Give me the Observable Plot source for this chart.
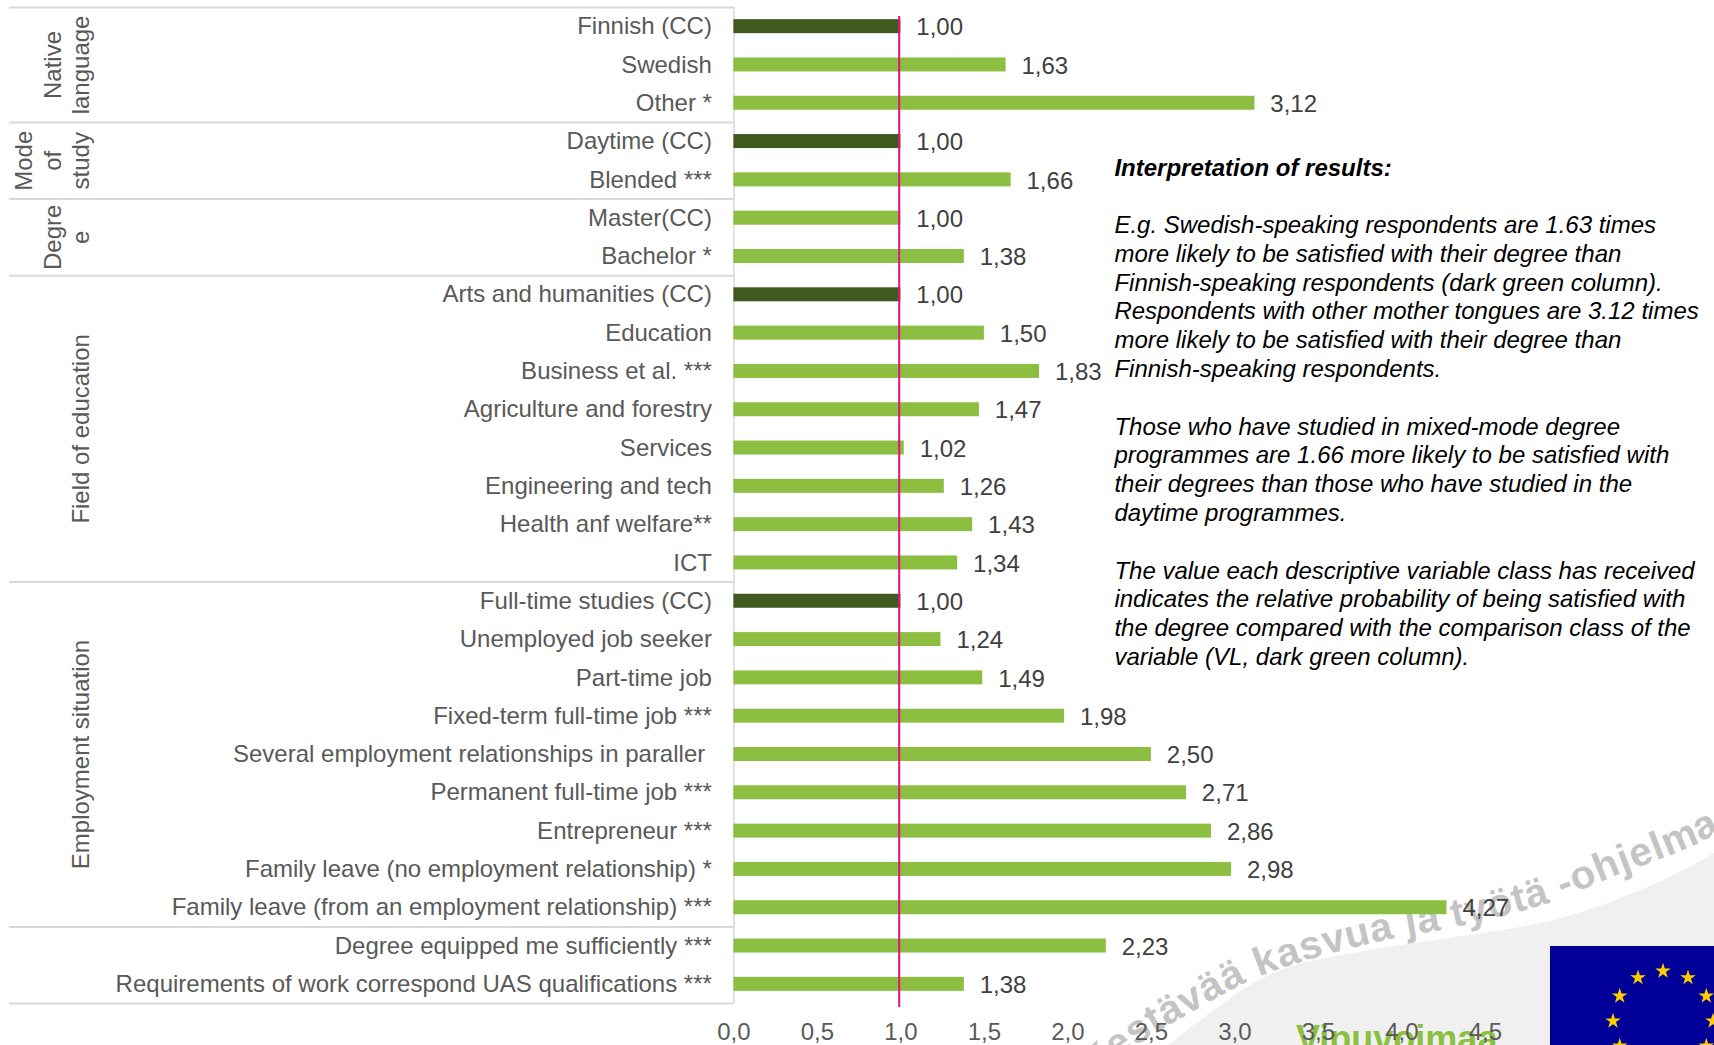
<!DOCTYPE html>
<html>
<head>
<meta charset="utf-8">
<script src="https://cdn.jsdelivr.net/npm/d3@7"></script>
<script src="https://cdn.jsdelivr.net/npm/@observablehq/plot@0.6"></script>
<style>
  html, body { margin: 0; padding: 0; background: #fff; overflow: hidden; }
  #stage { position: relative; width: 1714px; height: 1045px; overflow: hidden; font-family: "Liberation Sans", Arial, sans-serif; }
  #stage > svg { position: absolute; left: 0; top: 0; display: block; }
  #note { position: absolute; left: 1114.4px; top: 153.5px; font-size: 24px; line-height: 28.8px; font-style: italic; color: #000; white-space: pre; }
  #note b { font-weight: bold; }
</style>
</head>
<body>
<div id="stage"></div>
<script>
// Odds ratios of degree satisfaction, one row per class, top to bottom
const rowLabels = [
  "Finnish (CC)", "Swedish", "Other *",
  "Daytime (CC)", "Blended ***",
  "Master(CC)", "Bachelor *",
  "Arts and humanities (CC)", "Education", "Business et al. ***", "Agriculture and forestry",
  "Services", "Engineering and tech", "Health anf welfare**", "ICT",
  "Full-time studies (CC)", "Unemployed job seeker", "Part-time job", "Fixed-term full-time job ***",
  "Several employment relationships in paraller\u00a0", "Permanent full-time job ***", "Entrepreneur ***",
  "Family leave (no employment relationship) *", "Family leave (from an employment relationship) ***",
  "Degree equipped me sufficiently ***", "Requirements of work correspond UAS qualifications ***"
];
const rowValues = [
  1.00, 1.63, 3.12,
  1.00, 1.66,
  1.00, 1.38,
  1.00, 1.50, 1.83, 1.47, 1.02, 1.26, 1.43, 1.34,
  1.00, 1.24, 1.49, 1.98, 2.50, 2.71, 2.86, 2.98, 4.27,
  2.23, 1.38
];
// Comparison classes get the dark bar
const comparisonClasses = ["Finnish (CC)", "Daytime (CC)", "Arts and humanities (CC)", "Full-time studies (CC)"];

const groupNames = ["Native\nlanguage", "Mode\nof\nstudy", "Degre\ne", "Field of education", "Employment situation", ""];
const groupSizes = [3, 2, 2, 8, 9, 2];
const xTicks = [0, 0.5, 1, 1.5, 2, 2.5, 3, 3.5, 4, 4.5];

const noteLines = [
  "<b>Interpretation of results:</b>", "",
  "E.g. Swedish-speaking respondents are 1.63 times",
  "more likely to be satisfied with their degree than",
  "Finnish-speaking respondents (dark green column).",
  "Respondents with other mother tongues are 3.12 times",
  "more likely to be satisfied with their degree than",
  "Finnish-speaking respondents.", "",
  "Those who have studied in mixed-mode degree",
  "programmes are 1.66 more likely to be satisfied with",
  "their degrees than those who have studied in the",
  "daytime programmes.", "",
  "The value each descriptive variable class has received",
  "indicates the relative probability of being satisfied with",
  "the degree compared with the comparison class of the",
  "variable (VL, dark green column)."
];

const rows = rowLabels.map((label, i) => ({label, value: rowValues[i]}));
const comma = (v, digits) => v.toFixed(digits).replace(".", ",");

// Page geometry of the plot frame
const W = 1714, H = 1045, mTop = 7, mBottom = 42, mLeft = 733.4;
const unit = 167;
const step = (H - mTop - mBottom) / rowLabels.length;
const xAtPixel = px => (px - mLeft) / unit;

// Group start rows, from the running total of group sizes
let start = 0;
const groups = groupNames.map((name, i) => {
  const g = {name, first: rowLabels[start], last: rowLabels[start + groupSizes[i] - 1], size: groupSizes[i]};
  start += groupSizes[i];
  return g;
});

const stage = d3.select("#stage");

// Backdrop: swoosh, programme slogan on a curve, wordmark and EU flag
const bg = stage.append("svg").attr("width", W).attr("height", H);
bg.append("path")
  .attr("d", d3.line().curve(d3.curveCatmullRom)([[1120, 1085], [1168, 1045], [1273, 973], [1364, 951], [1455, 937], [1553, 920], [1640, 890], [1714, 853], [1760, 820]]) + "L1760,1100L1120,1100Z")
  .attr("fill", "#f0f0f0");
bg.append("path")
  .attr("id", "sloganPath")
  .attr("fill", "none")
  .attr("d", d3.line().curve(d3.curveCatmullRom)([[1060, 1105], [1140, 1043], [1183, 1017], [1263, 975], [1385, 940], [1455, 927], [1542, 905], [1610, 878], [1710, 837], [1760, 800]]));
bg.append("text")
  .attr("font-family", "Liberation Sans, Arial, sans-serif")
  .attr("font-weight", "bold")
  .attr("font-size", 40)
  .attr("letter-spacing", 1)
  .attr("fill", "#c4c4c4")
  .append("textPath")
  .attr("href", "#sloganPath")
  .attr("startOffset", 42)
  .text("Kestävää kasvua ja työtä -ohjelma");
bg.append("text")
  .attr("x", 1296).attr("y", 1051)
  .attr("font-family", "Liberation Sans, Arial, sans-serif")
  .attr("font-weight", "bold")
  .attr("font-size", 36)
  .attr("fill", "#8cc03f")
  .text("Vipuvoimaa");
bg.append("rect").attr("x", 1550).attr("y", 946).attr("width", 170).attr("height", 110).attr("fill", "#000099");
const starPath = (cx, cy, R) => d3.range(10).map(k => {
  const r = k % 2 ? R * 0.382 : R;
  const a = -Math.PI / 2 + k * Math.PI / 5;
  return `${k ? "L" : "M"}${cx + r * Math.cos(a)},${cy + r * Math.sin(a)}`;
}).join("") + "Z";
d3.range(12).forEach(k => {
  const a = k * Math.PI / 6;
  bg.append("path")
    .attr("d", starPath(1663 + 50 * Math.sin(a), 1021 - 50 * Math.cos(a), 8.2))
    .attr("fill", "#ffcc00");
});

const labelFill = "#595959", valueFill = "#404040", ruleGrey = "#d9d9d9";

// One rotated label per named group, centred on the span of its rows
const groupMarks = groups.filter(g => g.name).map(g => Plot.text([g], {
  x: () => xAtPixel(88.5),
  y: d => d.first,
  dy: (g.size - 1) * step / 2,
  text: d => d.name,
  rotate: -90,
  lineAnchor: "bottom",
  lineHeight: 1.18,
  fontSize: 24,
  fill: labelFill
}));

const chart = Plot.plot({
  width: W,
  height: H,
  marginTop: mTop,
  marginBottom: mBottom,
  marginLeft: mLeft,
  marginRight: 0,
  style: {background: "transparent", fontFamily: "'Liberation Sans', Arial, sans-serif"},
  x: {domain: [0, (W - mLeft) / unit], label: null},
  y: {domain: rowLabels, padding: 0, round: false, label: null},
  marks: [
    // Group separators and the left edge of the bar area
    Plot.ruleY(groups, {y: "first", dy: -step / 2, x1: xAtPixel(9), x2: 0, stroke: ruleGrey, strokeWidth: 2}),
    Plot.ruleY(groups.slice(-1), {y: "last", dy: step / 2, x1: xAtPixel(9), x2: 0, stroke: ruleGrey, strokeWidth: 2}),
    Plot.ruleX([0], {stroke: ruleGrey, strokeWidth: 1.5}),
    Plot.barX(rows, {
      x: "value",
      y: "label",
      insetTop: (step - 14) / 2,
      insetBottom: (step - 14) / 2,
      fill: d => comparisonClasses.includes(d.label) ? "#40591f" : "#8cbf41"
    }),
    // Reference line at the comparison value
    Plot.ruleX([1], {stroke: "#e0107c", strokeWidth: 2, dx: -1.7, insetTop: 9, insetBottom: -4}),
    Plot.text(rows, {
      x: "value",
      y: "label",
      text: d => comma(d.value, 2),
      textAnchor: "start",
      dx: 15.4,
      dy: 1,
      fontSize: 24,
      fill: valueFill
    }),
    Plot.axisY({tickSize: 0, tickPadding: 22, fontSize: 24, fill: labelFill, label: null}),
    Plot.axisX({ticks: xTicks, tickFormat: d => comma(d, 1), tickSize: 0, tickPadding: 19, fontSize: 24, fill: labelFill, label: null}),
    ...groupMarks
  ]
});
stage.node().appendChild(chart);

stage.append("div").attr("id", "note").html(noteLines.join("\n"));
</script>
</body>
</html>
